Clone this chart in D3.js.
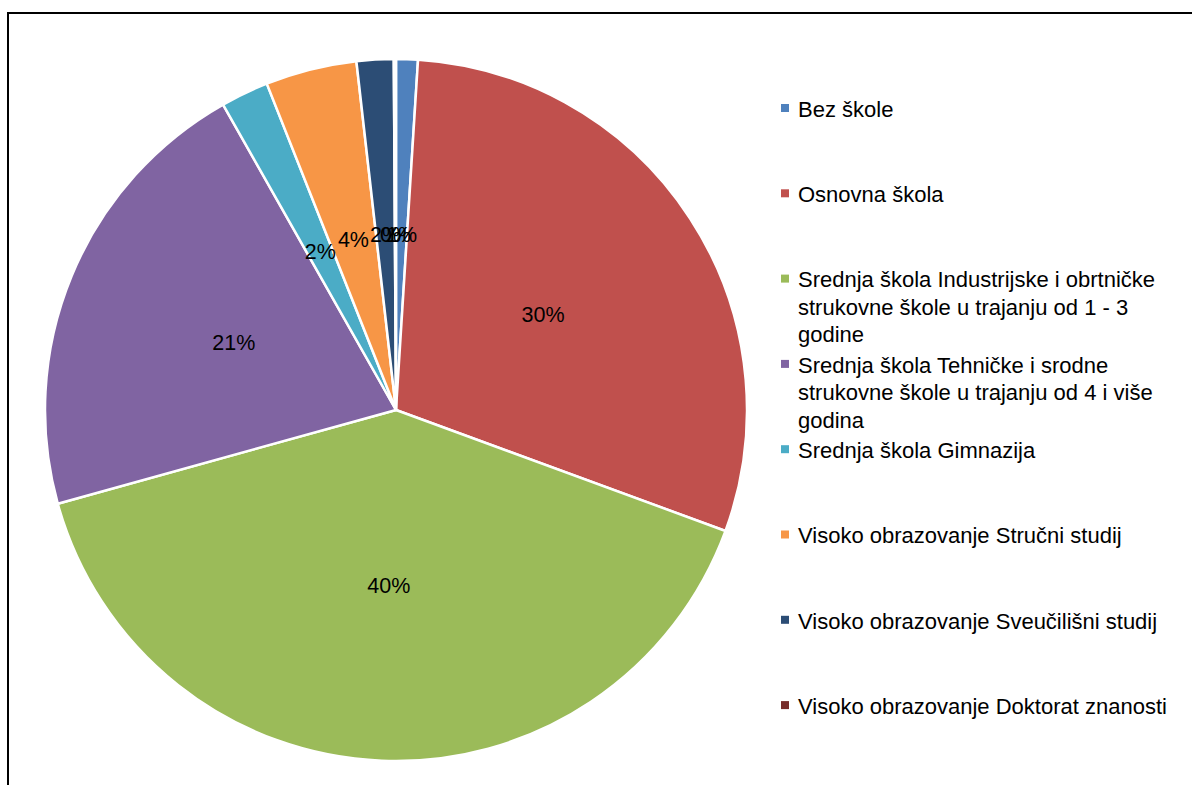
<!DOCTYPE html>
<html>
<head>
<meta charset="utf-8">
<script src="https://d3js.org/d3.v7.min.js"></script>
<style>
  body { margin: 0; background: #fff; }
  svg text { font-family: "Liberation Sans", Arial, sans-serif; fill: #000; }
</style>
</head>
<body>
<div id="chart"></div>
<script>
// categories and their shares (percent)
var categories = [
  "Bez škole",
  "Osnovna škola",
  "Srednja škola Industrijske i obrtničke strukovne škole u trajanju od 1 - 3 godine",
  "Srednja škola Tehničke i srodne strukovne škole u trajanju od 4 i više godina",
  "Srednja škola Gimnazija",
  "Visoko obrazovanje Stručni studij",
  "Visoko obrazovanje Sveučilišni studij",
  "Visoko obrazovanje Doktorat znanosti"
];
var values = [1.0, 29.6, 40.1, 21.1, 2.2, 4.2, 1.7, 0.1];
var colors = ["#4F81BD", "#C0504D", "#9BBB59", "#8064A2", "#4BACC6", "#F79646", "#2C4D75", "#772C2A"];

var W = 1192, H = 785;
var svg = d3.select("#chart").append("svg")
    .attr("width", W)
    .attr("height", H);

// outer frame (runs off the right and bottom edges)
svg.append("rect")
    .attr("x", 8).attr("y", 13)
    .attr("width", W + 10).attr("height", H + 10)
    .attr("fill", "none")
    .attr("stroke", "#000")
    .attr("stroke-width", 2);

var cx = 396, cy = 410, r = 351;

var pie = d3.pie().sort(null).value(function (d) { return d; });
var arcs = pie(values);
var arc = d3.arc().innerRadius(0).outerRadius(r);
var labelArc = d3.arc().innerRadius(r / 2).outerRadius(r / 2);

var g = svg.append("g").attr("transform", "translate(" + cx + "," + cy + ")");

g.selectAll("path.slice")
    .data(arcs)
  .enter().append("path")
    .attr("class", "slice")
    .attr("d", arc)
    .attr("fill", function (d, i) { return colors[i]; })
    .attr("stroke", "#fff")
    .attr("stroke-width", 2.5)
    .attr("stroke-linejoin", "round");

g.selectAll("text.lbl")
    .data(arcs)
  .enter().append("text")
    .attr("class", "lbl")
    .attr("transform", function (d) { return "translate(" + labelArc.centroid(d) + ")"; })
    .attr("text-anchor", "middle")
    .attr("dy", "0.35em")
    .style("font-size", "21.5px")
    .text(function (d) { return Math.round(d.data) + "%"; });

// legend
var legX = 781, legY0 = 109, legStep = 85.3, lineH = 27.5, maxW = 372;
var leg = svg.append("g");

categories.forEach(function (name, i) {
    var y = legY0 + i * legStep;
    leg.append("rect")
        .attr("x", legX).attr("y", y - 5)
        .attr("width", 8).attr("height", 8)
        .attr("fill", colors[i]);

    var t = leg.append("text")
        .attr("x", legX + 17)
        .attr("y", y)
        .style("font-size", "22px");

    // wrap words into lines no wider than maxW
    var words = name.split(" "), line = [];
    var tspan = t.append("tspan").attr("x", legX + 17).attr("dy", "0.35em");
    words.forEach(function (w) {
        line.push(w);
        tspan.text(line.join(" "));
        if (tspan.node().getComputedTextLength() > maxW && line.length > 1) {
            line.pop();
            tspan.text(line.join(" "));
            line = [w];
            tspan = t.append("tspan").attr("x", legX + 17).attr("dy", lineH + "px").text(w);
        }
    });
});
</script>
</body>
</html>
